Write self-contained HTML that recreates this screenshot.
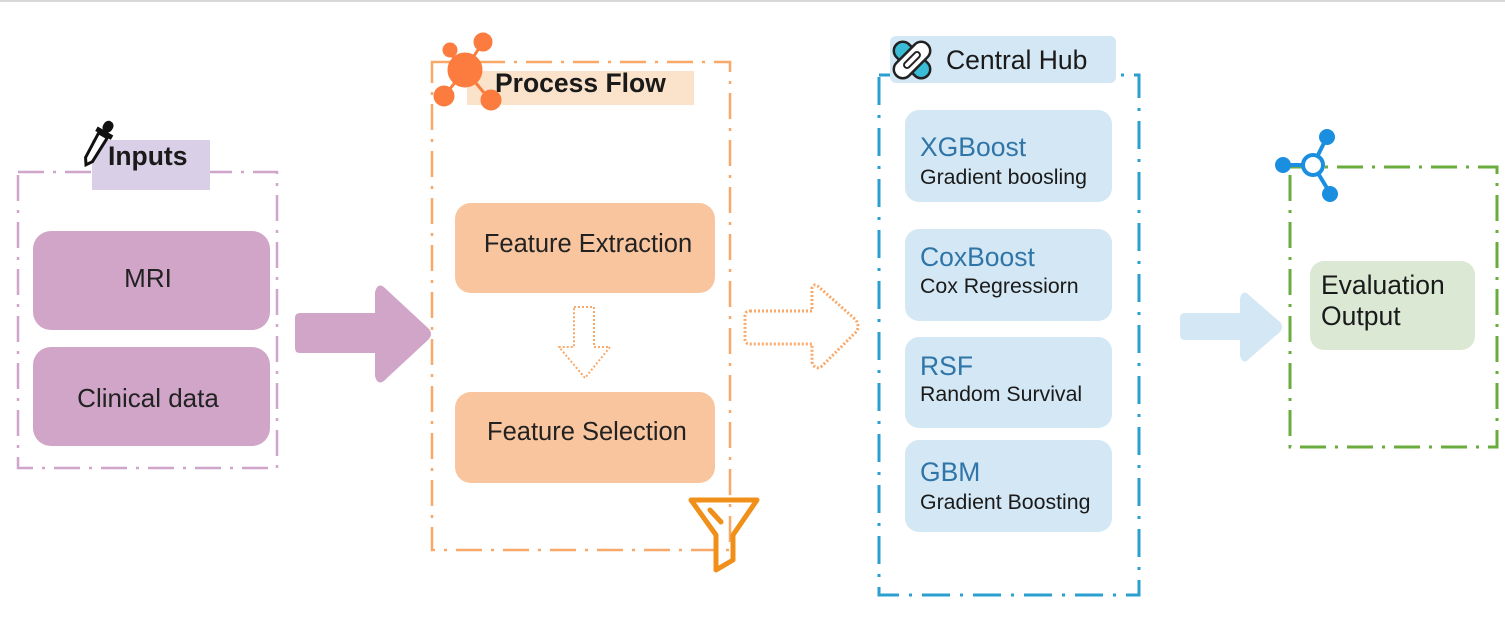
<!DOCTYPE html>
<html><head><meta charset="utf-8"><style>
html,body{margin:0;padding:0;background:#fff;width:1505px;height:620px;overflow:hidden}
svg{display:block}
text{font-family:"Liberation Sans",sans-serif}
</style></head><body>
<svg width="1505" height="620" viewBox="0 0 1505 620" xmlns="http://www.w3.org/2000/svg">
<line x1="0" y1="1" x2="1505" y2="1" stroke="#d8d8d8" stroke-width="2"/>

<!-- Inputs -->
<rect x="18" y="172" width="259" height="296" fill="none" stroke="#cfa6c9" stroke-width="2.5" stroke-dasharray="26,9,3,9"/>
<rect x="92" y="140" width="118" height="50" fill="#d9d0e8"/>
<text x="108" y="165" font-size="26.5" font-weight="bold" fill="#1a1a1a">Inputs</text>
<g transform="translate(98,144) rotate(30)">
<rect x="-5" y="-26" width="10" height="12" rx="5" fill="#111"/>
<rect x="-9" y="-15" width="18" height="5" fill="#111"/>
<path d="M-5,-10 L5,-10 L4,18 L0,24 L-4,18 Z" fill="#fff" stroke="#111" stroke-width="3"/>
</g>
<rect x="33" y="231" width="237" height="99" rx="18" fill="#d0a5c8"/>
<text x="148" y="287" font-size="26" text-anchor="middle" fill="#222">MRI</text>
<rect x="33" y="347" width="237" height="99" rx="18" fill="#d0a5c8"/>
<text x="148" y="407" font-size="26" text-anchor="middle" fill="#222">Clinical data</text>
<path d="M300,313 L375,313 L375,292 Q378,280 387,290 L428,328 Q434,334 428,340 L387,378 Q378,388 375,376 L375,353 L300,353 Q295,353 295,348 L295,318 Q295,313 300,313 Z" fill="#d0a5c8"/>

<!-- Process Flow -->
<rect x="432" y="62" width="298" height="488" fill="none" stroke="#f8a868" stroke-width="2.5" stroke-dasharray="26,9,3,9"/>
<rect x="467" y="71" width="227" height="34" fill="#fbe3cb"/>
<text x="495" y="92" font-size="26.5" font-weight="bold" fill="#1a1a1a">Process Flow</text>
<g fill="#fb7c3e" stroke="#fb7c3e" stroke-width="3">
<line x1="465" y1="70" x2="483" y2="42"/><line x1="465" y1="70" x2="446" y2="49"/>
<line x1="465" y1="70" x2="445" y2="95"/><line x1="465" y1="70" x2="490" y2="100"/>
<circle cx="465" cy="70" r="16"/><circle cx="483" cy="42" r="8"/><circle cx="450" cy="50" r="6"/>
<circle cx="444" cy="96" r="9"/><circle cx="491" cy="100" r="9"/>
</g>
<rect x="455" y="203" width="260" height="90" rx="16" fill="#f9c59e"/>
<text x="588" y="252" font-size="25.5" text-anchor="middle" fill="#222">Feature Extraction</text>
<path d="M574,307 L594,307 L594,347 L610,347 L585,378 L559,347 L574,347 Z" fill="none" stroke="#f8a868" stroke-width="2" stroke-dasharray="2,2" stroke-linejoin="round"/>
<rect x="455" y="392" width="260" height="91" rx="16" fill="#f9c59e"/>
<text x="487" y="440" font-size="25.5" fill="#222">Feature Selection</text>
<g fill="none" stroke="#f0901a" stroke-width="5" stroke-linejoin="round" stroke-linecap="round">
<path d="M691,500 L757,500 L733,535 L733,560 L716,570 L716,535 Z"/>
<line x1="710" y1="510" x2="721" y2="522"/>
</g>

<path d="M750,311 L812,311 L812,288 Q814,282 820,288 L856,320 Q860,327 856,332 L822,366 Q815,371 812,362 L812,344 L750,344 Q745,344 745,339 L745,316 Q745,311 750,311 Z" fill="none" stroke="#f8a868" stroke-width="3" stroke-dasharray="2,2"/>

<!-- Central Hub -->
<rect x="879" y="75" width="260" height="520" fill="none" stroke="#2a9fd0" stroke-width="3" stroke-dasharray="28,10,3,10"/>
<rect x="890" y="36" width="226" height="47" rx="6" fill="#d4e7f4"/>
<text x="946" y="69" font-size="26.5" fill="#1a1a1a">Central Hub</text>
<g transform="translate(912,60)">
<rect x="-22" y="-9" width="44" height="18" rx="9" transform="rotate(45)" fill="#3bbcd6" stroke="#222" stroke-width="2.5"/>
<rect x="-22" y="-9" width="44" height="18" rx="9" transform="rotate(-45)" fill="#fff" stroke="#222" stroke-width="2.5"/>
<rect x="-10" y="-3" width="20" height="6" rx="3" transform="rotate(-45)" fill="none" stroke="#222" stroke-width="2"/>
</g>
<g font-size="21.3" fill="#1a1a1a">
<rect x="905" y="110" width="207" height="92" rx="14" fill="#d4e7f4"/>
<text x="920" y="156" font-size="26.5" fill="#2f75a8">XGBoost</text>
<text x="920" y="184">Gradient boosling</text>
<rect x="905" y="229" width="207" height="92" rx="14" fill="#d4e7f4"/>
<text x="920" y="266" font-size="26.5" fill="#2f75a8">CoxBoost</text>
<text x="920" y="293">Cox Regressiorn</text>
<rect x="905" y="337" width="207" height="91" rx="14" fill="#d4e7f4"/>
<text x="920" y="375" font-size="26.5" fill="#2f75a8">RSF</text>
<text x="920" y="401">Random Survival</text>
<rect x="905" y="440" width="207" height="92" rx="14" fill="#d4e7f4"/>
<text x="920" y="481" font-size="26.5" fill="#2f75a8">GBM</text>
<text x="920" y="509">Gradient Boosting</text>
</g>

<path d="M1185,313 L1240,313 L1240,298 Q1243,288 1250,296 L1280,322 Q1284,327 1280,332 L1250,358 Q1243,366 1240,356 L1240,340 L1185,340 Q1180,340 1180,335 L1180,318 Q1180,313 1185,313 Z" fill="#d4e7f4"/>

<!-- Evaluation -->
<rect x="1290" y="167" width="207" height="280" fill="none" stroke="#6aac3e" stroke-width="3" stroke-dasharray="26,9,3,9"/>
<rect x="1310" y="261" width="165" height="89" rx="14" fill="#dae8d4"/>
<text x="1321" y="294" font-size="26.5" fill="#1a1a1a">Evaluation</text>
<text x="1321" y="325" font-size="26.5" fill="#1a1a1a">Output</text>
<g stroke="#1a8fe0" stroke-width="4" fill="#1a8fe0">
<line x1="1313" y1="165" x2="1327" y2="137"/><line x1="1313" y1="165" x2="1283" y2="165"/><line x1="1313" y1="165" x2="1330" y2="193"/>
<circle cx="1327" cy="137" r="6"/><circle cx="1283" cy="165" r="6"/><circle cx="1330" cy="194" r="6"/>
<circle cx="1313" cy="165" r="10" fill="#fff"/>
</g>
</svg>
</body></html>
